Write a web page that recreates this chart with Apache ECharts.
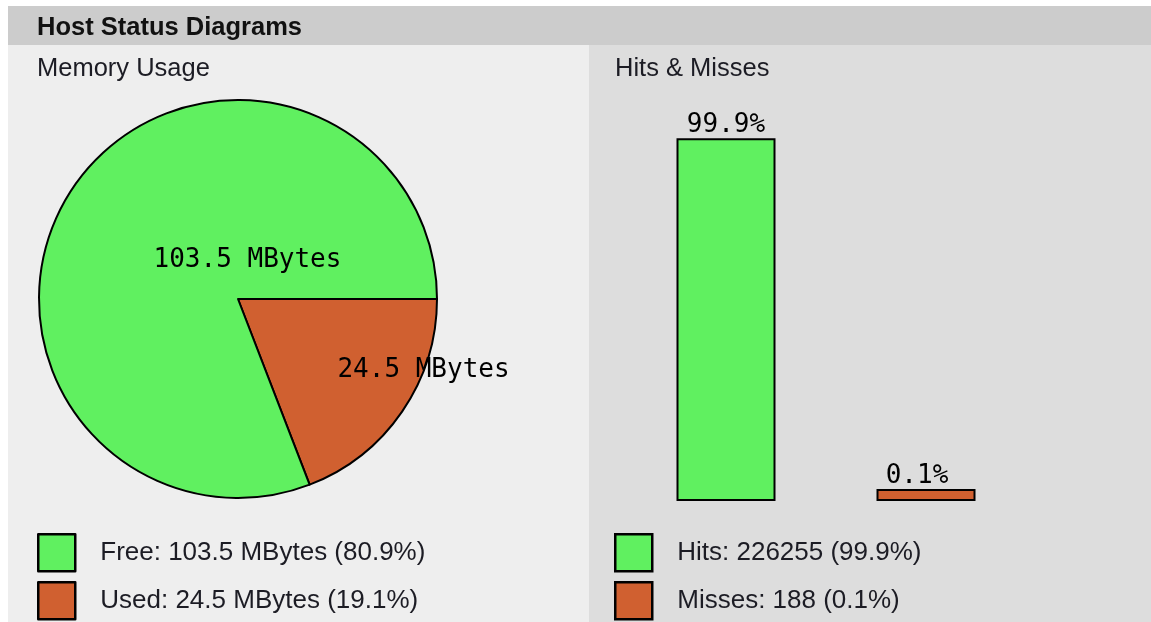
<!DOCTYPE html>
<html>
<head>
<meta charset="utf-8">
<title>Host Status Diagrams</title>
<script src="https://cdn.jsdelivr.net/npm/echarts@6/dist/echarts.min.js"></script>
<style>
  html, body { margin: 0; padding: 0; background: #fff; }
  #chart { width: 1151px; height: 622px; }
</style>
</head>
<body>
<div id="chart"></div>
<script>
// memory pie
const memNames = ['Free', 'Used'];
const memValues = [103.5, 24.5];
const memPercents = [80.9, 19.1];

// hits & misses bars
const hitNames = ['Hits', 'Misses'];
const hitCounts = [226255, 188];
const hitPercents = [99.9, 0.1];

const green = '#60f060';
const orange = '#d06030';
const sans = '"Liberation Sans", Arial, sans-serif';
const mono = '"DejaVu Sans Mono", monospace';

const chart = echarts.init(document.getElementById('chart'));

// pie starts at 3 o'clock with "Used", legend keeps Free first
const pieData = [
  {
    name: memNames[1], value: memValues[1],
    itemStyle: { color: orange },
    label: { offset: [101, 13] }
  },
  {
    name: memNames[0], value: memValues[0],
    itemStyle: { color: green },
    label: { offset: [94, 19] }
  }
];

// one legend block per row, so the rows never wrap
function legendRow(name, left, top, text) {
  return {
    data: [name],
    left: left,
    top: top,
    padding: 0,
    icon: 'rect',
    itemWidth: 37,
    itemHeight: 37,
    itemStyle: { borderColor: '#000', borderWidth: 2.5 },
    selectedMode: false,
    formatter: function () { return text; },
    textStyle: { fontFamily: sans, fontSize: 26, color: '#1c1c24', padding: [0, 0, 0, 20] }
  };
}

const legends = [];
memNames.forEach(function (name, i) {
  legends.push(legendRow(name, 37, 533 + i * 48,
    name + ': ' + memValues[i] + ' MBytes (' + memPercents[i] + '%)'));
});
hitNames.forEach(function (name, i) {
  legends.push(legendRow(name, 614, 533 + i * 48,
    name + ': ' + hitCounts[i] + ' (' + hitPercents[i] + '%)'));
});

const option = {
  animation: false,
  graphic: [
    { type: 'rect', z: 0, shape: { x: 8, y: 6, width: 1143, height: 39 }, style: { fill: '#cccccc' } },
    { type: 'rect', z: 0, shape: { x: 8, y: 45, width: 581, height: 577 }, style: { fill: '#eeeeee' } },
    { type: 'rect', z: 0, shape: { x: 589, y: 45, width: 562, height: 577 }, style: { fill: '#dddddd' } },
    {
      type: 'text', z: 1, x: 37, y: 28,
      style: { text: 'Host Status Diagrams', font: 'bold 25.5px ' + sans, fill: '#111', verticalAlign: 'middle' }
    },
    {
      type: 'text', z: 1, x: 37, y: 69,
      style: { text: 'Memory Usage', font: '25.5px ' + sans, fill: '#1c1c24', verticalAlign: 'middle' }
    },
    {
      type: 'text', z: 1, x: 615, y: 69,
      style: { text: 'Hits & Misses', font: '25.5px ' + sans, fill: '#1c1c24', verticalAlign: 'middle' }
    }
  ],
  legend: legends,
  grid: {
    left: 626,
    right: 125,
    top: 138,
    bottom: 121,
    containLabel: false
  },
  xAxis: {
    type: 'category',
    data: hitNames,
    show: false
  },
  yAxis: {
    type: 'value',
    min: 0,
    max: 100,
    show: false
  },
  series: [
    {
      name: 'Memory',
      type: 'pie',
      center: [238, 299],
      radius: 199,
      startAngle: 0,
      clockwise: true,
      silent: true,
      itemStyle: { borderColor: '#000', borderWidth: 2 },
      label: {
        show: true,
        position: 'inside',
        formatter: '{c} MBytes',
        fontFamily: mono,
        fontSize: 26,
        color: '#000'
      },
      labelLine: { show: false },
      data: pieData
    },
    {
      name: hitNames[0],
      type: 'bar',
      barWidth: 99,
      barGap: '-100%',
      silent: true,
      itemStyle: { color: green, borderColor: '#000', borderWidth: 2 },
      label: {
        show: true,
        position: 'top',
        distance: 0,
        formatter: '{c}%',
        fontFamily: mono,
        fontSize: 26,
        color: '#000'
      },
      data: [hitPercents[0], '-']
    },
    {
      name: hitNames[1],
      type: 'bar',
      barWidth: 99,
      barGap: '-100%',
      barMinHeight: 12,
      silent: true,
      itemStyle: { color: orange, borderColor: '#000', borderWidth: 2 },
      label: {
        show: true,
        position: 'top',
        distance: 0,
        offset: [-9, 0],
        formatter: '{c}%',
        fontFamily: mono,
        fontSize: 26,
        color: '#000'
      },
      data: ['-', hitPercents[1]]
    }
  ]
};

chart.setOption(option);
window.addEventListener('resize', chart.resize);
</script>
</body>
</html>
